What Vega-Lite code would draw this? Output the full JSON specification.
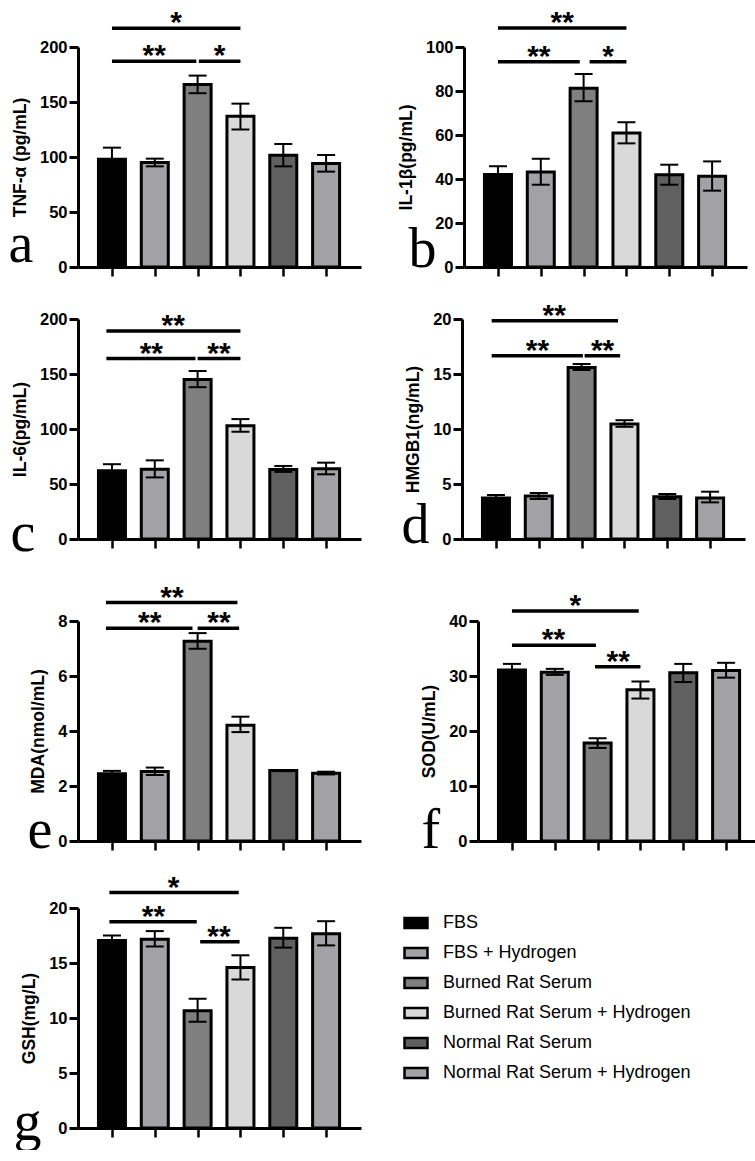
{
  "$schema": "https://vega.github.io/schema/vega-lite/v6.json",
  "background": "white",
  "padding": {"left": 8, "top": 8, "right": 5, "bottom": 0},
  "config": {
    "view": {"stroke": null},
    "axis": {"grid": false, "domainColor": "black", "domainWidth": 3, "tickColor": "black", "labelFont": "Liberation Sans", "labelFontWeight": "bold", "labelFontSize": 16.5, "labelColor": "black", "titleFont": "Liberation Sans", "titleFontWeight": "bold", "titleFontSize": 17.5, "titleColor": "black"},
    "axisY": {"tickSize": 9, "tickWidth": 3, "labelPadding": 2, "titlePadding": 10},
    "axisX": {"tickSize": 9, "tickWidth": 2.5, "labels": false, "titleFont": "Liberation Serif", "titleFontWeight": "normal", "titleFontSize": 56, "titleAlign": "left", "titleBaseline": "alphabetic", "titleAngle": 0},
    "legend": {"orient": "none", "legendX": 325, "legendY": 863, "padding": 0, "symbolType": "M-1,-0.43H1V0.43H-1Z", "symbolSize": 529, "symbolStrokeColor": "black", "symbolStrokeWidth": 2.5, "labelFont": "Liberation Sans", "labelFontSize": 18, "labelColor": "black", "labelOffset": 14, "rowPadding": 7, "labelLimit": 400}
  },
  "datasets": {
    "bars": [
      {"panel": "a", "group": "FBS", "i": 0, "v": 98, "lo": 87.5, "hi": 108.5},
      {"panel": "a", "group": "FBS + Hydrogen", "i": 1, "v": 95, "lo": 91.5, "hi": 98.5},
      {"panel": "a", "group": "Burned Rat Serum", "i": 2, "v": 166, "lo": 158, "hi": 174},
      {"panel": "a", "group": "Burned Rat Serum + Hydrogen", "i": 3, "v": 137, "lo": 125, "hi": 148.5},
      {"panel": "a", "group": "Normal Rat Serum", "i": 4, "v": 101.5, "lo": 91.5, "hi": 111.8},
      {"panel": "a", "group": "Normal Rat Serum + Hydrogen", "i": 5, "v": 94, "lo": 86.7, "hi": 101.8},
      {"panel": "b", "group": "FBS", "i": 0, "v": 42, "lo": 38.2, "hi": 45.8},
      {"panel": "b", "group": "FBS + Hydrogen", "i": 1, "v": 43.2, "lo": 37.4, "hi": 49.2},
      {"panel": "b", "group": "Burned Rat Serum", "i": 2, "v": 81.3, "lo": 75.3, "hi": 87.7},
      {"panel": "b", "group": "Burned Rat Serum + Hydrogen", "i": 3, "v": 60.9, "lo": 56.2, "hi": 65.8},
      {"panel": "b", "group": "Normal Rat Serum", "i": 4, "v": 41.9, "lo": 37.4, "hi": 46.5},
      {"panel": "b", "group": "Normal Rat Serum + Hydrogen", "i": 5, "v": 41.2, "lo": 34.7, "hi": 48},
      {"panel": "c", "group": "FBS", "i": 0, "v": 62, "lo": 56, "hi": 68},
      {"panel": "c", "group": "FBS + Hydrogen", "i": 1, "v": 63.5, "lo": 56, "hi": 71.5},
      {"panel": "c", "group": "Burned Rat Serum", "i": 2, "v": 145, "lo": 138, "hi": 152.7},
      {"panel": "c", "group": "Burned Rat Serum + Hydrogen", "i": 3, "v": 103, "lo": 97.5, "hi": 109},
      {"panel": "c", "group": "Normal Rat Serum", "i": 4, "v": 63.2, "lo": 61, "hi": 66.4},
      {"panel": "c", "group": "Normal Rat Serum + Hydrogen", "i": 5, "v": 63.8, "lo": 58.8, "hi": 69.4},
      {"panel": "d", "group": "FBS", "i": 0, "v": 3.72, "lo": 3.45, "hi": 4.0},
      {"panel": "d", "group": "FBS + Hydrogen", "i": 1, "v": 3.9, "lo": 3.64, "hi": 4.18},
      {"panel": "d", "group": "Burned Rat Serum", "i": 2, "v": 15.6, "lo": 15.36, "hi": 15.9},
      {"panel": "d", "group": "Burned Rat Serum + Hydrogen", "i": 3, "v": 10.45, "lo": 10.2, "hi": 10.8},
      {"panel": "d", "group": "Normal Rat Serum", "i": 4, "v": 3.85, "lo": 3.64, "hi": 4.09},
      {"panel": "d", "group": "Normal Rat Serum + Hydrogen", "i": 5, "v": 3.72, "lo": 3.33, "hi": 4.3},
      {"panel": "e", "group": "FBS", "i": 0, "v": 2.45, "lo": 2.35, "hi": 2.55},
      {"panel": "e", "group": "FBS + Hydrogen", "i": 1, "v": 2.53, "lo": 2.4, "hi": 2.67},
      {"panel": "e", "group": "Burned Rat Serum", "i": 2, "v": 7.26, "lo": 6.99, "hi": 7.56},
      {"panel": "e", "group": "Burned Rat Serum + Hydrogen", "i": 3, "v": 4.21, "lo": 3.96, "hi": 4.52},
      {"panel": "e", "group": "Normal Rat Serum", "i": 4, "v": 2.56, "lo": 2.54, "hi": 2.58},
      {"panel": "e", "group": "Normal Rat Serum + Hydrogen", "i": 5, "v": 2.46, "lo": 2.42, "hi": 2.52},
      {"panel": "f", "group": "FBS", "i": 0, "v": 31.1, "lo": 30.0, "hi": 32.2},
      {"panel": "f", "group": "FBS + Hydrogen", "i": 1, "v": 30.7, "lo": 30.2, "hi": 31.3},
      {"panel": "f", "group": "Burned Rat Serum", "i": 2, "v": 17.8, "lo": 16.9, "hi": 18.7},
      {"panel": "f", "group": "Burned Rat Serum + Hydrogen", "i": 3, "v": 27.5, "lo": 25.9, "hi": 29.0},
      {"panel": "f", "group": "Normal Rat Serum", "i": 4, "v": 30.6, "lo": 28.9, "hi": 32.2},
      {"panel": "f", "group": "Normal Rat Serum + Hydrogen", "i": 5, "v": 31.0, "lo": 29.7, "hi": 32.4},
      {"panel": "g", "group": "FBS", "i": 0, "v": 17.05, "lo": 16.6, "hi": 17.5},
      {"panel": "g", "group": "FBS + Hydrogen", "i": 1, "v": 17.15, "lo": 16.5, "hi": 17.9},
      {"panel": "g", "group": "Burned Rat Serum", "i": 2, "v": 10.65, "lo": 9.66, "hi": 11.75},
      {"panel": "g", "group": "Burned Rat Serum + Hydrogen", "i": 3, "v": 14.6, "lo": 13.5, "hi": 15.7},
      {"panel": "g", "group": "Normal Rat Serum", "i": 4, "v": 17.25, "lo": 16.4, "hi": 18.2},
      {"panel": "g", "group": "Normal Rat Serum + Hydrogen", "i": 5, "v": 17.65, "lo": 16.6, "hi": 18.8}
    ],
    "marks": [
      {"panel": "a", "kind": "br", "i": 0, "i2": 3, "v": 217},
      {"panel": "a", "kind": "br", "i": 0, "i2": 1.97, "v": 187},
      {"panel": "a", "kind": "br", "i": 2.03, "i2": 3, "v": 187},
      {"panel": "a", "kind": "star", "i": 1.5, "v": 217, "label": "*"},
      {"panel": "a", "kind": "star", "i": 0.985, "v": 187, "label": "**"},
      {"panel": "a", "kind": "star", "i": 2.515, "v": 187, "label": "*"},
      {"panel": "b", "kind": "br", "i": 0, "i2": 3, "v": 108.6},
      {"panel": "b", "kind": "br", "i": 0, "i2": 1.91, "v": 93.3},
      {"panel": "b", "kind": "br", "i": 2.14, "i2": 3, "v": 93.3},
      {"panel": "b", "kind": "star", "i": 1.5, "v": 108.6, "label": "**"},
      {"panel": "b", "kind": "star", "i": 0.955, "v": 93.3, "label": "**"},
      {"panel": "b", "kind": "star", "i": 2.57, "v": 93.3, "label": "*"},
      {"panel": "c", "kind": "br", "i": -0.13, "i2": 3, "v": 189},
      {"panel": "c", "kind": "br", "i": -0.13, "i2": 1.95, "v": 164},
      {"panel": "c", "kind": "br", "i": 2.0, "i2": 3, "v": 164},
      {"panel": "c", "kind": "star", "i": 1.43, "v": 189, "label": "**"},
      {"panel": "c", "kind": "star", "i": 0.92, "v": 164, "label": "**"},
      {"panel": "c", "kind": "star", "i": 2.5, "v": 164, "label": "**"},
      {"panel": "d", "kind": "br", "i": -0.1, "i2": 2.85, "v": 19.85},
      {"panel": "d", "kind": "br", "i": -0.1, "i2": 2.03, "v": 16.67},
      {"panel": "d", "kind": "br", "i": 2.07, "i2": 2.9, "v": 16.67},
      {"panel": "d", "kind": "star", "i": 1.36, "v": 19.85, "label": "**"},
      {"panel": "d", "kind": "star", "i": 0.97, "v": 16.67, "label": "**"},
      {"panel": "d", "kind": "star", "i": 2.49, "v": 16.67, "label": "**"},
      {"panel": "e", "kind": "br", "i": -0.14, "i2": 2.93, "v": 8.67},
      {"panel": "e", "kind": "br", "i": -0.14, "i2": 1.88, "v": 7.74},
      {"panel": "e", "kind": "br", "i": 2.0, "i2": 2.97, "v": 7.74},
      {"panel": "e", "kind": "star", "i": 1.4, "v": 8.67, "label": "**"},
      {"panel": "e", "kind": "star", "i": 0.88, "v": 7.74, "label": "**"},
      {"panel": "e", "kind": "star", "i": 2.5, "v": 7.74, "label": "**"},
      {"panel": "f", "kind": "br", "i": 0, "i2": 2.96, "v": 41.8},
      {"panel": "f", "kind": "br", "i": 0, "i2": 1.96, "v": 35.6},
      {"panel": "f", "kind": "br", "i": 1.94, "i2": 3.0, "v": 31.7},
      {"panel": "f", "kind": "star", "i": 1.48, "v": 41.8, "label": "*"},
      {"panel": "f", "kind": "star", "i": 0.97, "v": 35.6, "label": "**"},
      {"panel": "f", "kind": "star", "i": 2.48, "v": 31.7, "label": "**"},
      {"panel": "g", "kind": "br", "i": -0.06, "i2": 2.96, "v": 21.4},
      {"panel": "g", "kind": "br", "i": -0.06, "i2": 1.98, "v": 18.75},
      {"panel": "g", "kind": "br", "i": 2.06, "i2": 2.98, "v": 16.94},
      {"panel": "g", "kind": "star", "i": 1.44, "v": 21.4, "label": "*"},
      {"panel": "g", "kind": "star", "i": 0.97, "v": 18.75, "label": "**"},
      {"panel": "g", "kind": "star", "i": 2.5, "v": 16.94, "label": "**"}
    ]
  },
  "spacing": 22,
  "vconcat": [
    {
      "spacing": 36,
      "hconcat": [
        {
          "width": 283, "height": 220,
          "encoding": {"x": {"field": "i", "type": "quantitative", "scale": {"domain": [-0.676, 5.698], "nice": false, "zero": false}, "axis": {"values": [0, 1, 2, 3, 4, 5], "title": "a", "titleX": -70, "titleY": -6}}},
          "layer": [
            {"data": {"name": "bars"}, "transform": [{"filter": "datum.panel == 'a'"}], "mark": {"type": "bar", "orient": "vertical", "width": 27, "stroke": "black", "strokeWidth": 3}, "encoding": {"y": {"field": "v", "type": "quantitative", "scale": {"domain": [0, 200], "nice": false}, "axis": {"values": [0, 50, 100, 150, 200], "title": "TNF-α (pg/mL)"}}, "color": {"field": "group", "type": "nominal", "title": null, "scale": {"domain": ["FBS", "FBS + Hydrogen", "Burned Rat Serum", "Burned Rat Serum + Hydrogen", "Normal Rat Serum", "Normal Rat Serum + Hydrogen"], "range": ["#000000", "#a2a2a6", "#7f7f7f", "#d9d9d9", "#606060", "#a2a2a6"]}}}},
            {"data": {"name": "bars"}, "transform": [{"filter": "datum.panel == 'a'"}], "mark": {"type": "rule", "color": "black", "strokeWidth": 2}, "encoding": {"y": {"field": "lo", "type": "quantitative"}, "y2": {"field": "hi"}}},
            {"data": {"name": "bars"}, "transform": [{"filter": "datum.panel == 'a'"}], "mark": {"type": "tick", "orient": "horizontal", "color": "black", "size": 18, "thickness": 2, "opacity": 1}, "encoding": {"y": {"field": "lo", "type": "quantitative"}}},
            {"data": {"name": "bars"}, "transform": [{"filter": "datum.panel == 'a'"}], "mark": {"type": "tick", "orient": "horizontal", "color": "black", "size": 18, "thickness": 2, "opacity": 1}, "encoding": {"y": {"field": "hi", "type": "quantitative"}}},
            {"data": {"name": "marks"}, "transform": [{"filter": "datum.panel == 'a' && datum.kind == 'br'"}], "mark": {"type": "rule", "color": "black", "strokeWidth": 3.5}, "encoding": {"x2": {"field": "i2"}, "y": {"field": "v", "type": "quantitative"}}},
            {"data": {"name": "marks"}, "transform": [{"filter": "datum.panel == 'a' && datum.kind == 'star'"}], "mark": {"type": "text", "font": "Liberation Sans", "fontWeight": "bold", "fontSize": 30, "baseline": "alphabetic", "dy": 4, "color": "black"}, "encoding": {"y": {"field": "v", "type": "quantitative"}, "text": {"field": "label"}}}
          ]
        },
        {
          "width": 283, "height": 220,
          "encoding": {"x": {"field": "i", "type": "quantitative", "scale": {"domain": [-0.676, 5.698], "nice": false, "zero": false}, "axis": {"values": [0, 1, 2, 3, 4, 5], "title": "b", "titleX": -56, "titleY": -1}}},
          "layer": [
            {"data": {"name": "bars"}, "transform": [{"filter": "datum.panel == 'b'"}], "mark": {"type": "bar", "orient": "vertical", "width": 27, "stroke": "black", "strokeWidth": 3}, "encoding": {"y": {"field": "v", "type": "quantitative", "scale": {"domain": [0, 100], "nice": false}, "axis": {"values": [0, 20, 40, 60, 80, 100], "title": "IL-1β(pg/mL)"}}, "color": {"field": "group", "type": "nominal", "title": null, "scale": {"domain": ["FBS", "FBS + Hydrogen", "Burned Rat Serum", "Burned Rat Serum + Hydrogen", "Normal Rat Serum", "Normal Rat Serum + Hydrogen"], "range": ["#000000", "#a2a2a6", "#7f7f7f", "#d9d9d9", "#606060", "#a2a2a6"]}}}},
            {"data": {"name": "bars"}, "transform": [{"filter": "datum.panel == 'b'"}], "mark": {"type": "rule", "color": "black", "strokeWidth": 2}, "encoding": {"y": {"field": "lo", "type": "quantitative"}, "y2": {"field": "hi"}}},
            {"data": {"name": "bars"}, "transform": [{"filter": "datum.panel == 'b'"}], "mark": {"type": "tick", "orient": "horizontal", "color": "black", "size": 18, "thickness": 2, "opacity": 1}, "encoding": {"y": {"field": "lo", "type": "quantitative"}}},
            {"data": {"name": "bars"}, "transform": [{"filter": "datum.panel == 'b'"}], "mark": {"type": "tick", "orient": "horizontal", "color": "black", "size": 18, "thickness": 2, "opacity": 1}, "encoding": {"y": {"field": "hi", "type": "quantitative"}}},
            {"data": {"name": "marks"}, "transform": [{"filter": "datum.panel == 'b' && datum.kind == 'br'"}], "mark": {"type": "rule", "color": "black", "strokeWidth": 3.5}, "encoding": {"x2": {"field": "i2"}, "y": {"field": "v", "type": "quantitative"}}},
            {"data": {"name": "marks"}, "transform": [{"filter": "datum.panel == 'b' && datum.kind == 'star'"}], "mark": {"type": "text", "font": "Liberation Sans", "fontWeight": "bold", "fontSize": 30, "baseline": "alphabetic", "dy": 4, "color": "black"}, "encoding": {"y": {"field": "v", "type": "quantitative"}, "text": {"field": "label"}}}
          ]
        }
      ]
    },
    {
      "spacing": 21,
      "vconcat": [
        {
          "spacing": 40,
          "hconcat": [
            {
              "width": 283, "height": 220,
              "encoding": {"x": {"field": "i", "type": "quantitative", "scale": {"domain": [-0.676, 5.698], "nice": false, "zero": false}, "axis": {"values": [0, 1, 2, 3, 4, 5], "title": "c", "titleX": -68, "titleY": 11}}},
              "layer": [
                {"data": {"name": "bars"}, "transform": [{"filter": "datum.panel == 'c'"}], "mark": {"type": "bar", "orient": "vertical", "width": 27, "stroke": "black", "strokeWidth": 3}, "encoding": {"y": {"field": "v", "type": "quantitative", "scale": {"domain": [0, 200], "nice": false}, "axis": {"values": [0, 50, 100, 150, 200], "title": "IL-6(pg/mL)"}}, "color": {"field": "group", "type": "nominal", "title": null, "scale": {"domain": ["FBS", "FBS + Hydrogen", "Burned Rat Serum", "Burned Rat Serum + Hydrogen", "Normal Rat Serum", "Normal Rat Serum + Hydrogen"], "range": ["#000000", "#a2a2a6", "#7f7f7f", "#d9d9d9", "#606060", "#a2a2a6"]}}}},
                {"data": {"name": "bars"}, "transform": [{"filter": "datum.panel == 'c'"}], "mark": {"type": "rule", "color": "black", "strokeWidth": 2}, "encoding": {"y": {"field": "lo", "type": "quantitative"}, "y2": {"field": "hi"}}},
                {"data": {"name": "bars"}, "transform": [{"filter": "datum.panel == 'c'"}], "mark": {"type": "tick", "orient": "horizontal", "color": "black", "size": 18, "thickness": 2, "opacity": 1}, "encoding": {"y": {"field": "lo", "type": "quantitative"}}},
                {"data": {"name": "bars"}, "transform": [{"filter": "datum.panel == 'c'"}], "mark": {"type": "tick", "orient": "horizontal", "color": "black", "size": 18, "thickness": 2, "opacity": 1}, "encoding": {"y": {"field": "hi", "type": "quantitative"}}},
                {"data": {"name": "marks"}, "transform": [{"filter": "datum.panel == 'c' && datum.kind == 'br'"}], "mark": {"type": "rule", "color": "black", "strokeWidth": 3.5}, "encoding": {"x2": {"field": "i2"}, "y": {"field": "v", "type": "quantitative"}}},
                {"data": {"name": "marks"}, "transform": [{"filter": "datum.panel == 'c' && datum.kind == 'star'"}], "mark": {"type": "text", "font": "Liberation Sans", "fontWeight": "bold", "fontSize": 30, "baseline": "alphabetic", "dy": 4, "color": "black"}, "encoding": {"y": {"field": "v", "type": "quantitative"}, "text": {"field": "label"}}}
              ]
            },
            {
              "width": 283, "height": 220,
              "encoding": {"x": {"field": "i", "type": "quantitative", "scale": {"domain": [-0.676, 5.698], "nice": false, "zero": false}, "axis": {"values": [0, 1, 2, 3, 4, 5], "title": "d", "titleX": -61, "titleY": 3}}},
              "layer": [
                {"data": {"name": "bars"}, "transform": [{"filter": "datum.panel == 'd'"}], "mark": {"type": "bar", "orient": "vertical", "width": 27, "stroke": "black", "strokeWidth": 3}, "encoding": {"y": {"field": "v", "type": "quantitative", "scale": {"domain": [0, 20], "nice": false}, "axis": {"values": [0, 5, 10, 15, 20], "title": "HMGB1(ng/mL)"}}, "color": {"field": "group", "type": "nominal", "title": null, "scale": {"domain": ["FBS", "FBS + Hydrogen", "Burned Rat Serum", "Burned Rat Serum + Hydrogen", "Normal Rat Serum", "Normal Rat Serum + Hydrogen"], "range": ["#000000", "#a2a2a6", "#7f7f7f", "#d9d9d9", "#606060", "#a2a2a6"]}}}},
                {"data": {"name": "bars"}, "transform": [{"filter": "datum.panel == 'd'"}], "mark": {"type": "rule", "color": "black", "strokeWidth": 2}, "encoding": {"y": {"field": "lo", "type": "quantitative"}, "y2": {"field": "hi"}}},
                {"data": {"name": "bars"}, "transform": [{"filter": "datum.panel == 'd'"}], "mark": {"type": "tick", "orient": "horizontal", "color": "black", "size": 18, "thickness": 2, "opacity": 1}, "encoding": {"y": {"field": "lo", "type": "quantitative"}}},
                {"data": {"name": "bars"}, "transform": [{"filter": "datum.panel == 'd'"}], "mark": {"type": "tick", "orient": "horizontal", "color": "black", "size": 18, "thickness": 2, "opacity": 1}, "encoding": {"y": {"field": "hi", "type": "quantitative"}}},
                {"data": {"name": "marks"}, "transform": [{"filter": "datum.panel == 'd' && datum.kind == 'br'"}], "mark": {"type": "rule", "color": "black", "strokeWidth": 3.5}, "encoding": {"x2": {"field": "i2"}, "y": {"field": "v", "type": "quantitative"}}},
                {"data": {"name": "marks"}, "transform": [{"filter": "datum.panel == 'd' && datum.kind == 'star'"}], "mark": {"type": "text", "font": "Liberation Sans", "fontWeight": "bold", "fontSize": 30, "baseline": "alphabetic", "dy": 4, "color": "black"}, "encoding": {"y": {"field": "v", "type": "quantitative"}, "text": {"field": "label"}}}
              ]
            }
          ]
        },
        {
          "spacing": 14,
          "vconcat": [
            {
              "spacing": 59,
              "hconcat": [
                {
                  "width": 283, "height": 220,
                  "encoding": {"x": {"field": "i", "type": "quantitative", "scale": {"domain": [-0.676, 5.698], "nice": false, "zero": false}, "axis": {"values": [0, 1, 2, 3, 4, 5], "title": "e", "titleX": -51, "titleY": 6}}},
                  "layer": [
                    {"data": {"name": "bars"}, "transform": [{"filter": "datum.panel == 'e'"}], "mark": {"type": "bar", "orient": "vertical", "width": 27, "stroke": "black", "strokeWidth": 3}, "encoding": {"y": {"field": "v", "type": "quantitative", "scale": {"domain": [0, 8], "nice": false}, "axis": {"values": [0, 2, 4, 6, 8], "title": "MDA(nmol/mL)"}}, "color": {"field": "group", "type": "nominal", "title": null, "scale": {"domain": ["FBS", "FBS + Hydrogen", "Burned Rat Serum", "Burned Rat Serum + Hydrogen", "Normal Rat Serum", "Normal Rat Serum + Hydrogen"], "range": ["#000000", "#a2a2a6", "#7f7f7f", "#d9d9d9", "#606060", "#a2a2a6"]}}}},
                    {"data": {"name": "bars"}, "transform": [{"filter": "datum.panel == 'e'"}], "mark": {"type": "rule", "color": "black", "strokeWidth": 2}, "encoding": {"y": {"field": "lo", "type": "quantitative"}, "y2": {"field": "hi"}}},
                    {"data": {"name": "bars"}, "transform": [{"filter": "datum.panel == 'e'"}], "mark": {"type": "tick", "orient": "horizontal", "color": "black", "size": 18, "thickness": 2, "opacity": 1}, "encoding": {"y": {"field": "lo", "type": "quantitative"}}},
                    {"data": {"name": "bars"}, "transform": [{"filter": "datum.panel == 'e'"}], "mark": {"type": "tick", "orient": "horizontal", "color": "black", "size": 18, "thickness": 2, "opacity": 1}, "encoding": {"y": {"field": "hi", "type": "quantitative"}}},
                    {"data": {"name": "marks"}, "transform": [{"filter": "datum.panel == 'e' && datum.kind == 'br'"}], "mark": {"type": "rule", "color": "black", "strokeWidth": 3.5}, "encoding": {"x2": {"field": "i2"}, "y": {"field": "v", "type": "quantitative"}}},
                    {"data": {"name": "marks"}, "transform": [{"filter": "datum.panel == 'e' && datum.kind == 'star'"}], "mark": {"type": "text", "font": "Liberation Sans", "fontWeight": "bold", "fontSize": 30, "baseline": "alphabetic", "dy": 4, "color": "black"}, "encoding": {"y": {"field": "v", "type": "quantitative"}, "text": {"field": "label"}}}
                  ]
                },
                {
                  "width": 283, "height": 220,
                  "encoding": {"x": {"field": "i", "type": "quantitative", "scale": {"domain": [-0.676, 5.698], "nice": false, "zero": false}, "axis": {"values": [0, 1, 2, 3, 4, 5], "title": "f", "titleX": -57, "titleY": 6}}},
                  "layer": [
                    {"data": {"name": "bars"}, "transform": [{"filter": "datum.panel == 'f'"}], "mark": {"type": "bar", "orient": "vertical", "width": 27, "stroke": "black", "strokeWidth": 3}, "encoding": {"y": {"field": "v", "type": "quantitative", "scale": {"domain": [0, 40], "nice": false}, "axis": {"values": [0, 10, 20, 30, 40], "title": "SOD(U/mL)"}}, "color": {"field": "group", "type": "nominal", "title": null, "scale": {"domain": ["FBS", "FBS + Hydrogen", "Burned Rat Serum", "Burned Rat Serum + Hydrogen", "Normal Rat Serum", "Normal Rat Serum + Hydrogen"], "range": ["#000000", "#a2a2a6", "#7f7f7f", "#d9d9d9", "#606060", "#a2a2a6"]}}}},
                    {"data": {"name": "bars"}, "transform": [{"filter": "datum.panel == 'f'"}], "mark": {"type": "rule", "color": "black", "strokeWidth": 2}, "encoding": {"y": {"field": "lo", "type": "quantitative"}, "y2": {"field": "hi"}}},
                    {"data": {"name": "bars"}, "transform": [{"filter": "datum.panel == 'f'"}], "mark": {"type": "tick", "orient": "horizontal", "color": "black", "size": 18, "thickness": 2, "opacity": 1}, "encoding": {"y": {"field": "lo", "type": "quantitative"}}},
                    {"data": {"name": "bars"}, "transform": [{"filter": "datum.panel == 'f'"}], "mark": {"type": "tick", "orient": "horizontal", "color": "black", "size": 18, "thickness": 2, "opacity": 1}, "encoding": {"y": {"field": "hi", "type": "quantitative"}}},
                    {"data": {"name": "marks"}, "transform": [{"filter": "datum.panel == 'f' && datum.kind == 'br'"}], "mark": {"type": "rule", "color": "black", "strokeWidth": 3.5}, "encoding": {"x2": {"field": "i2"}, "y": {"field": "v", "type": "quantitative"}}},
                    {"data": {"name": "marks"}, "transform": [{"filter": "datum.panel == 'f' && datum.kind == 'star'"}], "mark": {"type": "text", "font": "Liberation Sans", "fontWeight": "bold", "fontSize": 30, "baseline": "alphabetic", "dy": 4, "color": "black"}, "encoding": {"y": {"field": "v", "type": "quantitative"}, "text": {"field": "label"}}}
                  ]
                }
              ]
            },
            {
              "width": 283, "height": 220,
              "encoding": {"x": {"field": "i", "type": "quantitative", "scale": {"domain": [-0.676, 5.698], "nice": false, "zero": false}, "axis": {"values": [0, 1, 2, 3, 4, 5], "title": "g", "titleX": -65, "titleY": 11}}},
              "layer": [
                {"data": {"name": "bars"}, "transform": [{"filter": "datum.panel == 'g'"}], "mark": {"type": "bar", "orient": "vertical", "width": 27, "stroke": "black", "strokeWidth": 3}, "encoding": {"y": {"field": "v", "type": "quantitative", "scale": {"domain": [0, 20], "nice": false}, "axis": {"values": [0, 5, 10, 15, 20], "title": "GSH(mg/L)"}}, "color": {"field": "group", "type": "nominal", "title": null, "scale": {"domain": ["FBS", "FBS + Hydrogen", "Burned Rat Serum", "Burned Rat Serum + Hydrogen", "Normal Rat Serum", "Normal Rat Serum + Hydrogen"], "range": ["#000000", "#a2a2a6", "#7f7f7f", "#d9d9d9", "#606060", "#a2a2a6"]}}}},
                {"data": {"name": "bars"}, "transform": [{"filter": "datum.panel == 'g'"}], "mark": {"type": "rule", "color": "black", "strokeWidth": 2}, "encoding": {"y": {"field": "lo", "type": "quantitative"}, "y2": {"field": "hi"}}},
                {"data": {"name": "bars"}, "transform": [{"filter": "datum.panel == 'g'"}], "mark": {"type": "tick", "orient": "horizontal", "color": "black", "size": 18, "thickness": 2, "opacity": 1}, "encoding": {"y": {"field": "lo", "type": "quantitative"}}},
                {"data": {"name": "bars"}, "transform": [{"filter": "datum.panel == 'g'"}], "mark": {"type": "tick", "orient": "horizontal", "color": "black", "size": 18, "thickness": 2, "opacity": 1}, "encoding": {"y": {"field": "hi", "type": "quantitative"}}},
                {"data": {"name": "marks"}, "transform": [{"filter": "datum.panel == 'g' && datum.kind == 'br'"}], "mark": {"type": "rule", "color": "black", "strokeWidth": 3.5}, "encoding": {"x2": {"field": "i2"}, "y": {"field": "v", "type": "quantitative"}}},
                {"data": {"name": "marks"}, "transform": [{"filter": "datum.panel == 'g' && datum.kind == 'star'"}], "mark": {"type": "text", "font": "Liberation Sans", "fontWeight": "bold", "fontSize": 30, "baseline": "alphabetic", "dy": 4, "color": "black"}, "encoding": {"y": {"field": "v", "type": "quantitative"}, "text": {"field": "label"}}}
              ]
            }
          ]
        }
      ]
    }
  ]
}
